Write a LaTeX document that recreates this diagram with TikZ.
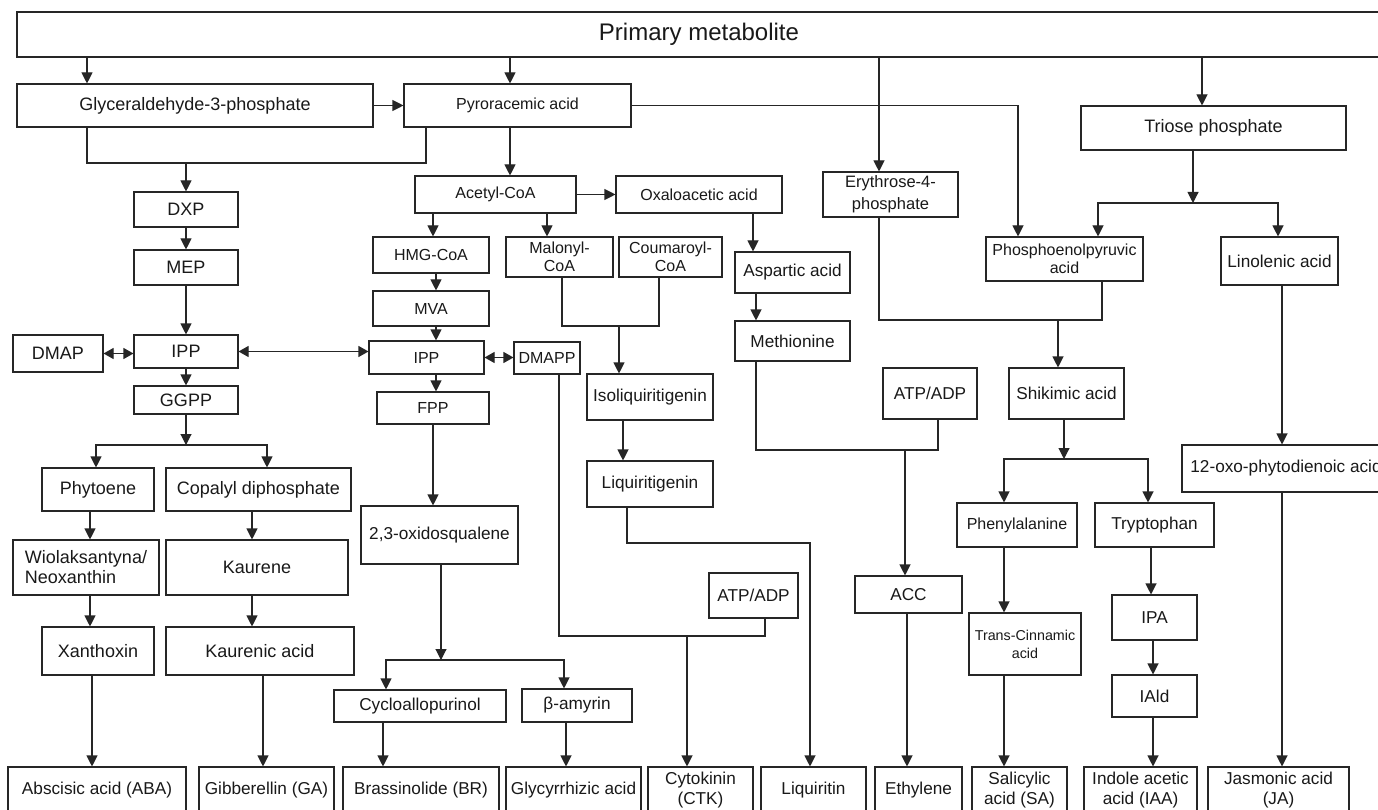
\documentclass[tikz,border=0pt]{standalone}
\usepackage{fontspec}
\setmainfont{Liberation Sans}
\usetikzlibrary{arrows.meta}
\tikzset{
 box/.style={draw=black!85, line width=1.1pt, inner sep=1pt, align=center, text=black!90},
 big/.style={font=\fontsize{24}{28}\selectfont},
 nrm/.style={font=\fontsize{18}{20}\selectfont},
 mid/.style={font=\fontsize{17.2}{20}\selectfont},
 sml/.style={font=\fontsize{16}{18}\selectfont},
 tiny/.style={font=\fontsize{14.3}{18}\selectfont},
 conn/.style={draw=black!85, line width=1.1pt},
 arr/.style={conn, -{Triangle[width=11pt,length=11pt]}},
 darr/.style={conn, {Triangle[width=11pt,length=10pt]}-{Triangle[width=11pt,length=10pt]}},
}
\newcommand\mkbox[7]{%
  \pgfmathsetmacro\mkbw{#4-#2}%
  \pgfmathsetmacro\mkbh{#5-#3}%
  \pgfmathsetmacro\mkbx{(#2+#4)/2}%
  \pgfmathsetmacro\mkby{(#3+#5)/2}%
  \node[box,#6,minimum width=\mkbw pt,minimum height=\mkbh pt] (#1) at (\mkbx,\mkby) {#7};}
\begin{document}
\begin{tikzpicture}[x=1pt,y=-1pt]
\useasboundingbox (0,0) rectangle (1378,810);
\fill[white] (0,0) rectangle (1378,810);
\clip (0,0) rectangle (1378,810);

\mkbox{top}{17}{12}{1381}{57}{big}{Primary metabolite}
\mkbox{g3p}{17}{84}{373}{127}{nrm}{Glyceraldehyde-3-phosphate}
\mkbox{pyr}{404}{84}{631}{127}{sml}{Pyroracemic acid}
\mkbox{ery}{823}{172}{958}{217}{font=\fontsize{16.5}{22}\selectfont}{Erythrose-4-\\phosphate}
\mkbox{tri}{1081}{106}{1346}{150}{nrm}{Triose phosphate}
\mkbox{acoa}{415}{176}{576}{213}{sml}{Acetyl-CoA}
\mkbox{oaa}{616}{176}{782}{213}{sml}{Oxaloacetic acid}
\mkbox{dxp}{134}{192}{238}{227}{nrm}{DXP}
\mkbox{mep}{134}{250}{238}{285}{nrm}{MEP}
\mkbox{ipp1}{134}{335}{238}{368}{nrm}{IPP}
\mkbox{dmap}{13}{335}{103}{372}{nrm}{DMAP}
\mkbox{ggpp}{134}{386}{238}{414}{nrm}{GGPP}
\mkbox{hmg}{373}{237}{489}{273}{sml}{HMG-CoA}
\mkbox{mal}{506}{237}{613}{277}{sml}{Malonyl-\\CoA}
\mkbox{cou}{619}{237}{722}{277}{sml}{Coumaroyl-\\CoA}
\mkbox{asp}{735}{252}{850}{293}{mid}{Aspartic acid}
\mkbox{met}{735}{321}{850}{361}{mid}{Methionine}
\mkbox{pep}{986}{237}{1143}{281}{sml}{Phosphoenolpyruvic\\acid}
\mkbox{lin}{1221}{237}{1338}{285}{mid}{Linolenic acid}
\mkbox{mva}{373}{291}{489}{326}{sml}{MVA}
\mkbox{ipp2}{369}{341}{484}{374}{sml}{IPP}
\mkbox{dmapp}{514}{342}{580}{374}{sml}{DMAPP}
\mkbox{fpp}{377}{392}{489}{424}{sml}{FPP}
\mkbox{iso}{587}{374}{713}{420}{mid}{Isoliquiritigenin}
\mkbox{lig}{587}{461}{713}{507}{mid}{Liquiritigenin}
\mkbox{atpa}{883}{368}{977}{419}{mid}{ATP/ADP}
\mkbox{shk}{1009}{368}{1124}{419}{mid}{Shikimic acid}
\mkbox{oxo}{1182}{445}{1390}{492}{mid}{12-oxo-phytodienoic acid}
\mkbox{phy}{42}{468}{154}{511}{nrm}{Phytoene}
\mkbox{cop}{166}{468}{351}{511}{nrm}{Copalyl diphosphate}
\mkbox{phe}{957}{503}{1077}{547}{sml}{Phenylalanine}
\mkbox{trp}{1095}{503}{1214}{547}{mid}{Tryptophan}
\mkbox{oxi}{361}{506}{518}{564}{mid}{2,3-oxidosqualene}
\mkbox{wio}{13}{540}{159}{595}{nrm,align=left}{Wiolaksantyna/\\Neoxanthin}
\mkbox{kau}{166}{540}{348}{595}{nrm}{Kaurene}
\mkbox{atpb}{709}{573}{798}{618}{mid}{ATP/ADP}
\mkbox{acc}{855}{576}{962}{613}{mid}{ACC}
\mkbox{ipa}{1112}{595}{1197}{640}{mid}{IPA}
\mkbox{tca}{969}{613}{1081}{675}{tiny}{Trans-Cinnamic\\acid}
\mkbox{xan}{42}{627}{154}{675}{nrm}{Xanthoxin}
\mkbox{kac}{166}{627}{354}{675}{nrm}{Kaurenic acid}
\mkbox{iald}{1112}{675}{1197}{717}{mid}{IAld}
\mkbox{cyc}{334}{690}{506}{722}{mid}{Cycloallopurinol}
\mkbox{bam}{522}{689}{632}{722}{mid}{β-amyrin}
\mkbox{aba}{8}{767}{186}{813}{mid}{Abscisic acid (ABA)}
\mkbox{ga}{199}{767}{334}{813}{mid}{Gibberellin (GA)}
\mkbox{br}{343}{767}{499}{813}{mid}{Brassinolide (BR)}
\mkbox{gly}{506}{767}{641}{813}{mid}{Glycyrrhizic acid}
\mkbox{ctk}{648}{767}{753}{813}{mid}{Cytokinin\\(CTK)}
\mkbox{liq}{761}{767}{866}{813}{mid}{Liquiritin}
\mkbox{eth}{875}{767}{962}{813}{mid}{Ethylene}
\mkbox{sa}{972}{767}{1067}{813}{mid}{Salicylic\\acid (SA)}
\mkbox{iaa}{1084}{767}{1197}{813}{mid}{Indole acetic\\acid (IAA)}
\mkbox{ja}{1208}{767}{1349}{813}{mid}{Jasmonic acid\\(JA)}

% connectors
\draw[arr] (top.south -| 87,0) -- (g3p.north -| 87,0);
\draw[arr] (top.south -| 510,0) -- (pyr.north -| 510,0);
\draw[arr] (top.south -| 879,0) -- (ery.north -| 879,0);
\draw[arr] (top.south -| 1202,0) -- (tri.north -| 1202,0);
\draw[arr] (g3p.east) -- (pyr.west |- g3p.east);
\coordinate (j1) at (186,163);
\draw[conn] (g3p.south -| 87,0) |- (j1) -| (pyr.south -| 426,0);
\draw[arr] (j1) -- (dxp.north);
\draw[arr] (pyr.east) -| (pep.north -| 1018,0);
\draw[arr] (pyr.south -| 510,0) -- (acoa.north -| 510,0);
\draw[arr] (acoa.east) -- (oaa.west);
\draw[arr] (acoa.south -| 433,0) -- (hmg.north -| 433,0);
\draw[arr] (acoa.south -| 547,0) -- (mal.north -| 547,0);
\draw[arr] (oaa.south -| 753,0) -- (asp.north -| 753,0);
\draw[arr] (asp.south -| 756,0) -- (met.north -| 756,0);
\coordinate (j2) at (905,450);
\draw[conn] (met.south -| 756,0) |- (j2) -| (atpa.south -| 938,0);
\draw[arr] (j2) -- (acc.north -| 905,0);
\draw[arr] (acc.south -| 907,0) -- (eth.north -| 907,0);
\draw[arr] (dxp.south) -- (mep.north);
\draw[arr] (mep.south) -- (ipp1.north);
\draw[darr] (dmap.east) -- (ipp1.west |- dmap.east);
\draw[darr] (ipp1.east) -- (ipp2.west |- ipp1.east);
\draw[arr] (ipp1.south) -- (ggpp.north);
\coordinate (j3) at (186,445);
\draw[arr] (ggpp.south) -- (j3);
\draw[arr] (j3) -| (phy.north -| 96,0);
\draw[arr] (j3) -| (cop.north -| 267,0);
\draw[arr] (phy.south -| 90,0) -- (wio.north -| 90,0);
\draw[arr] (wio.south -| 90,0) -- (xan.north -| 90,0);
\draw[arr] (xan.south -| 92,0) -- (aba.north -| 92,0);
\draw[arr] (cop.south -| 252,0) -- (kau.north -| 252,0);
\draw[arr] (kau.south -| 252,0) -- (kac.north -| 252,0);
\draw[arr] (kac.south -| 263,0) -- (ga.north -| 263,0);
\draw[arr] (hmg.south -| 436,0) -- (mva.north -| 436,0);
\draw[arr] (mva.south -| 436,0) -- (ipp2.north -| 436,0);
\draw[arr] (ipp2.south -| 436,0) -- (fpp.north -| 436,0);
\draw[arr] (fpp.south -| 433,0) -- (oxi.north -| 433,0);
\draw[darr] (ipp2.east) -- (dmapp.west |- ipp2.east);
\coordinate (j4) at (687,636);
\draw[conn] (dmapp.south -| 559,0) |- (j4) -| (atpb.south -| 765,0);
\draw[arr] (j4) -- (ctk.north -| 687,0);
\coordinate (j5) at (619,326);
\draw[conn] (mal.south -| 562,0) |- (j5) -| (cou.south -| 659,0);
\draw[arr] (j5) -- (iso.north -| 619,0);
\draw[arr] (iso.south -| 623,0) -- (lig.north -| 623,0);
\coordinate (k1) at (810,543);
\draw[arr] (lig.south -| 627,0) |- (k1) -- (liq.north -| 810,0);
\coordinate (j6) at (441,660);
\draw[arr] (oxi.south -| 441,0) -- (j6);
\draw[arr] (j6) -| (cyc.north -| 386,0);
\draw[arr] (j6) -| (bam.north -| 564,0);
\draw[arr] (cyc.south -| 383,0) -- (br.north -| 383,0);
\draw[arr] (bam.south -| 566,0) -- (gly.north -| 566,0);
\coordinate (j7) at (1058,320);
\draw[conn] (ery.south -| 879,0) |- (j7) -| (pep.south -| 1102,0);
\draw[arr] (j7) -- (shk.north -| 1058,0);
\coordinate (j8) at (1193,203);
\draw[arr] (tri.south -| 1193,0) -- (j8);
\draw[arr] (j8) -| (pep.north -| 1098,0);
\draw[arr] (j8) -| (lin.north -| 1278,0);
\draw[arr] (lin.south -| 1282,0) -- (oxo.north -| 1282,0);
\draw[arr] (oxo.south -| 1282,0) -- (ja.north -| 1282,0);
\coordinate (j9) at (1064,459);
\draw[arr] (shk.south -| 1064,0) -- (j9);
\draw[arr] (j9) -| (phe.north -| 1004,0);
\draw[arr] (j9) -| (trp.north -| 1148,0);
\draw[arr] (phe.south -| 1004,0) -- (tca.north -| 1004,0);
\draw[arr] (tca.south -| 1004,0) -- (sa.north -| 1004,0);
\draw[arr] (trp.south -| 1151,0) -- (ipa.north -| 1151,0);
\draw[arr] (ipa.south -| 1153,0) -- (iald.north -| 1153,0);
\draw[arr] (iald.south -| 1153,0) -- (iaa.north -| 1153,0);
\end{tikzpicture}
\end{document}
